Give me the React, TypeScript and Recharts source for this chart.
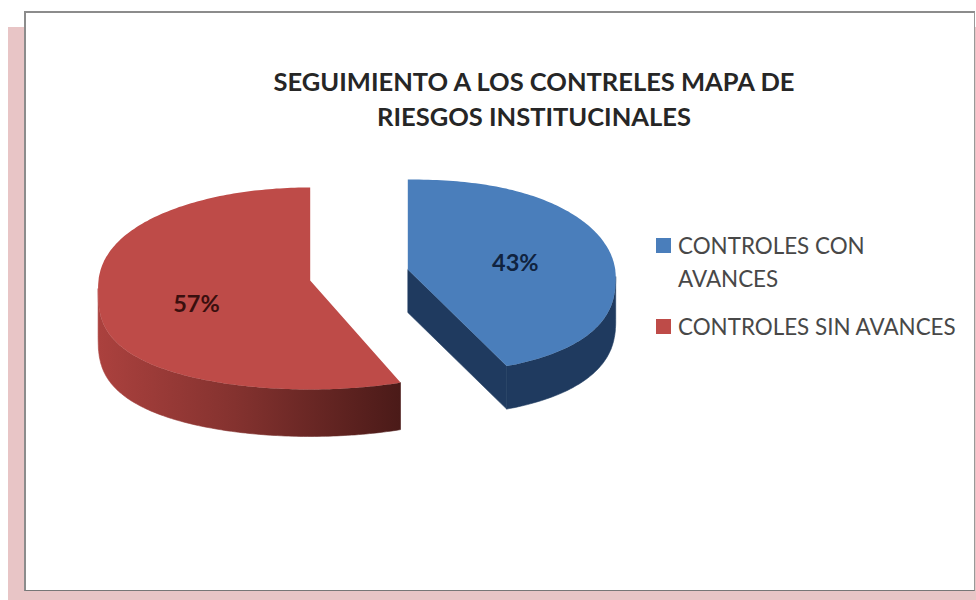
import React from 'react';
import { PieChart, Pie, Legend } from 'recharts';

const categories = ['CONTROLES CON AVANCES', 'CONTROLES SIN AVANCES'];
const values = [43, 57];
const colors = ['#4a7ebb', '#be4b48'];

const pieData = categories.map((name, i) => ({ name, value: values[i], fill: colors[i] }));

// fake 3D look: each slice is squashed to a rounded ellipse and gets a side wall
const sliceLook: Record<string, any> = {
  'CONTROLES CON AVANCES': {
    rx: 0.99, ry: 97, offset: 7, powX: 0.87, powFront: 0.8, powBack: 1, depth: 43, wall: '#1f3a5f', labelDx: 0, labelDy: 4,
  },
  'CONTROLES SIN AVANCES': {
    rx: 1.01, ry: 101, offset: 8, powX: 1, powFront: 0.7, powBack: 0.9, depth: 47, wall: 'url(#redWall)', labelDx: -4, labelDy: 11,
  },
};
const EXPLODE = 50;
const rad = (t: number) => (t * Math.PI) / 180;
const signedPow = (v: number, p: number) => Math.sign(v) * Math.pow(Math.abs(v), p);

// t = clockwise degrees from the top
const slicePoint = (look: any, ax: number, ay: number, r: number, t: number) => {
  const c = Math.cos(rad(t));
  return {
    x: ax + r * look.rx * signedPow(Math.sin(rad(t)), look.powX),
    y: ay + look.offset - look.ry * signedPow(c, c < 0 ? look.powFront : look.powBack),
  };
};

const apexOf = (cx: number, cy: number, midAngle: number) => {
  const t = 90 - midAngle;
  return { x: cx + EXPLODE * Math.sin(rad(t)), y: cy - EXPLODE * 0.5 * Math.cos(rad(t)) };
};

const Slice3D = (props: any) => {
  const { cx, cy, outerRadius, startAngle, endAngle, midAngle, fill, name } = props;
  const look = sliceLook[name];
  const apex = apexOf(cx, cy, midAngle);
  const t0 = 90 - startAngle;
  const t1 = 90 - endAngle;
  const arc = (from: number, to: number) => {
    const pts = [];
    for (let t = from; t < to; t += 1) pts.push(slicePoint(look, apex.x, apex.y, outerRadius, t));
    pts.push(slicePoint(look, apex.x, apex.y, outerRadius, to));
    return pts;
  };
  const toPath = (pts: any[]) => 'M' + pts.map((p) => `${p.x.toFixed(1)},${p.y.toFixed(1)}`).join('L') + 'Z';

  const top = toPath([apex, ...arc(t0, t1)]);
  const wallFrom = Math.max(t0, 90);
  const wallTo = Math.min(t1, 270);
  const wallTop = arc(wallFrom, wallTo);
  const wallBottom = wallTop.map((p) => ({ x: p.x, y: p.y + look.depth })).reverse();
  const wall = toPath([...wallTop, ...wallBottom]);

  // the cut face only shows on the blue slice
  const end = slicePoint(look, apex.x, apex.y, outerRadius, t1);
  const showCut = t1 < 180;
  const cut = toPath([apex, end, { x: end.x, y: end.y + look.depth }, { x: apex.x, y: apex.y + look.depth }]);

  return (
    <g>
      <defs>
        <linearGradient id="redWall" gradientUnits="userSpaceOnUse" x1="98" x2="402" y1="0" y2="0">
          <stop offset="0%" stopColor="#ab413e" />
          <stop offset="45%" stopColor="#84322f" />
          <stop offset="100%" stopColor="#4a1a18" />
        </linearGradient>
      </defs>
      {showCut && <path d={cut} fill={look.wall} stroke={look.wall} strokeWidth={0.6} />}
      <path d={wall} fill={look.wall} stroke={look.wall} strokeWidth={0.6} />
      <path d={top} fill={fill} />
    </g>
  );
};

const renderPercent = (props: any) => {
  const { cx, cy, outerRadius, midAngle, value, name } = props;
  const look = sliceLook[name];
  const apex = apexOf(cx, cy, midAngle);
  const t = 90 - midAngle;
  const x = apex.x + 0.53 * outerRadius * look.rx * Math.sin(rad(t)) + look.labelDx;
  const y = apex.y - 0.53 * look.ry * Math.cos(rad(t)) + look.labelDy;
  return (
    <text
      x={x}
      y={y}
      textAnchor="middle"
      dominantBaseline="central"
      fontFamily="Lato"
      fontWeight={700}
      fontSize={23.5}
      fill={name === categories[0] ? '#10233f' : '#3a0f0e'}
    >
      {value}%
    </text>
  );
};

const LegendBox = ({ payload }: any) => (
  <div style={{ fontFamily: 'Lato', fontSize: 22.4, lineHeight: '33px', color: '#484848', width: 308 }}>
    {(payload || []).map((entry: any, i: number) => (
      <div key={i} style={{ position: 'relative', paddingLeft: 22, marginBottom: 15 }}>
        <span
          style={{ position: 'absolute', left: 0, top: 9, width: 15, height: 15, background: entry.color }}
        />
        {entry.value}
      </div>
    ))}
  </div>
);

export default function App() {
  return (
    <div style={{ position: 'fixed', left: 0, top: 0, width: 976, height: 600, background: '#fff', overflow: 'hidden' }}>
      <div style={{ position: 'absolute', left: 8, top: 27, width: 968, height: 573, background: '#e8c5c6' }} />
      <div
        style={{
          position: 'absolute',
          left: 24,
          top: 11,
          width: 948,
          height: 577,
          background: '#fff',
          borderTop: '2px solid #8c8c8c',
          borderLeft: '2px solid #8c8c8c',
          borderBottom: '1px solid #777',
          borderRight: '1px solid #999',
        }}
      />
      <div
        style={{
          position: 'absolute',
          left: 172,
          top: 64,
          width: 724,
          textAlign: 'center',
          fontFamily: 'Lato',
          fontWeight: 700,
          fontSize: 25.5,
          lineHeight: '35px',
          color: '#262626',
        }}
      >
        SEGUIMIENTO A LOS CONTRELES MAPA DE
        <br />
        RIESGOS INSTITUCINALES
      </div>
      <div style={{ position: 'absolute', left: 0, top: 0 }}>
        <PieChart width={976} height={600} margin={{ top: 0, right: 0, bottom: 0, left: 0 }}>
          <Pie
            data={pieData}
            dataKey="value"
            nameKey="name"
            cx={359}
            cy={275}
            outerRadius={210}
            startAngle={90}
            endAngle={-270}
            stroke="none"
            shape={Slice3D}
            label={renderPercent}
            labelLine={false}
            isAnimationActive={false}
          />
          <Legend
            layout="vertical"
            align="right"
            verticalAlign="top"
            content={<LegendBox />}
            wrapperStyle={{ left: 656, top: 229, width: 310, right: 'auto' }}
          />
        </PieChart>
      </div>
    </div>
  );
}
